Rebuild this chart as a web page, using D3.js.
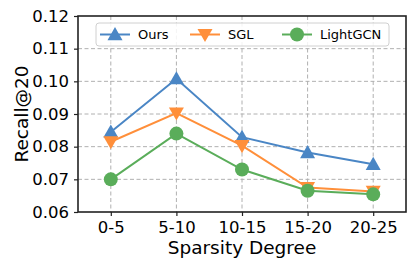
<!DOCTYPE html>
<html>
<head>
<meta charset="utf-8">
<script src="https://cdn.jsdelivr.net/npm/d3@7"></script>
<style>
body { margin: 0; background: #fff; }
text { font-family: "DejaVu Sans", sans-serif; fill: #000; }
</style>
</head>
<body>
<svg id="chart" width="416" height="269"></svg>
<script>
var categories = ["0-5", "5-10", "10-15", "15-20", "20-25"]
var yTicks = [0.06, 0.07, 0.08, 0.09, 0.10, 0.11, 0.12]
var ours = [0.0845, 0.1008, 0.0829, 0.0782, 0.0746]
var sgl = [0.0815, 0.0903, 0.0803, 0.0675, 0.0663]
var lightgcn = [0.0700, 0.0840, 0.0730, 0.0665, 0.0654]

var series = [
  {name: "Ours", values: ours, color: "#4a86c5", marker: "up"},
  {name: "SGL", values: sgl, color: "#ff8f3a", marker: "down"},
  {name: "LightGCN", values: lightgcn, color: "#5aad5a", marker: "circle"}
]

var margin = {top: 16, left: 78, bottom: 57, right: 10}
var width = 416, height = 269
var svg = d3.select("#chart")

var x = d3.scalePoint()
  .domain(categories)
  .range([margin.left, width - margin.right])
  .padding(0.5)
var y = d3.scaleLinear()
  .domain([0.06, 0.12])
  .range([height - margin.bottom, margin.top])

// grid
var grid = svg.append("g")
grid.selectAll(".gx").data(categories).enter().append("line")
  .attr("x1", function(d){ return x(d) }).attr("x2", function(d){ return x(d) })
  .attr("y1", margin.top).attr("y2", height - margin.bottom)
  .attr("stroke", "#b0b0b0").attr("stroke-width", 1).attr("stroke-dasharray", "4,2.5")
grid.selectAll(".gy").data(yTicks.slice(1, -1)).enter().append("line")
  .attr("y1", function(d){ return y(d) }).attr("y2", function(d){ return y(d) })
  .attr("x1", margin.left).attr("x2", width - margin.right)
  .attr("stroke", "#b0b0b0").attr("stroke-width", 1).attr("stroke-dasharray", "4,2.5")

// axes
var xAxis = svg.append("g")
  .attr("transform", "translate(0," + (height - margin.bottom) + ")")
  .call(d3.axisBottom(x).tickSize(4).tickPadding(5))
var yAxis = svg.append("g")
  .attr("transform", "translate(" + margin.left + ",0)")
  .call(d3.axisLeft(y).tickValues(yTicks).tickFormat(d3.format(".2f")).tickSize(4).tickPadding(5))
;[xAxis, yAxis].forEach(function(a){
  a.select(".domain").remove()
  a.selectAll("text").style("font-size", "16.5px").attr("fill", "#000")
  a.selectAll("line").attr("stroke", "#222").attr("stroke-width", 1.2)
})

function markerPath(type, cx, cy) {
  if (type == "circle") return null
  var s = 7.5
  if (type == "up") return "M" + cx + "," + (cy - s) + "L" + (cx + s) + "," + (cy + s * 0.75) + "L" + (cx - s) + "," + (cy + s * 0.75) + "Z"
  return "M" + cx + "," + (cy + s) + "L" + (cx + s) + "," + (cy - s * 0.75) + "L" + (cx - s) + "," + (cy - s * 0.75) + "Z"
}

function drawMarker(g, type, cx, cy, color) {
  if (type == "circle") {
    g.append("circle").attr("cx", cx).attr("cy", cy).attr("r", 7).attr("fill", color)
  } else {
    g.append("path").attr("d", markerPath(type, cx, cy)).attr("fill", color)
  }
}

var line = d3.line()
  .x(function(d, i){ return x(categories[i]) })
  .y(function(d){ return y(d) })

series.forEach(function(s) {
  var g = svg.append("g")
  g.append("path").datum(s.values)
    .attr("d", line)
    .attr("fill", "none")
    .attr("stroke", s.color)
    .attr("stroke-width", 2)
  s.values.forEach(function(v, i) {
    drawMarker(g, s.marker, x(categories[i]), y(v), s.color)
  })
})

// frame
svg.append("rect")
  .attr("x", margin.left).attr("y", margin.top)
  .attr("width", width - margin.right - margin.left)
  .attr("height", height - margin.bottom - margin.top)
  .attr("fill", "none").attr("stroke", "#222").attr("stroke-width", 1.6)

// legend
var legend = svg.append("g")
legend.append("rect")
  .attr("x", 96).attr("y", 23).attr("width", 293).attr("height", 23).attr("rx", 3)
  .attr("fill", "#fff").attr("fill-opacity", 0.85).attr("stroke", "#d0d0d0")
var legendX = [100, 190, 282]
series.forEach(function(s, i) {
  var lx = legendX[i], ly = 34.5
  legend.append("line")
    .attr("x1", lx).attr("x2", lx + 30).attr("y1", ly).attr("y2", ly)
    .attr("stroke", s.color).attr("stroke-width", 2)
  drawMarker(legend, s.marker, lx + 15, ly, s.color)
  legend.append("text")
    .attr("x", lx + 38).attr("y", ly + 4.5)
    .style("font-size", "13px")
    .text(s.name)
})

// axis labels
svg.append("text")
  .attr("x", (margin.left + width - margin.right) / 2)
  .attr("y", 254)
  .attr("text-anchor", "middle")
  .style("font-size", "18.5px")
  .text("Sparsity Degree")
svg.append("text")
  .attr("transform", "translate(28," + ((margin.top + height - margin.bottom) / 2) + ") rotate(-90)")
  .attr("text-anchor", "middle")
  .style("font-size", "18.5px")
  .text("Recall@20")
</script>
</body>
</html>
